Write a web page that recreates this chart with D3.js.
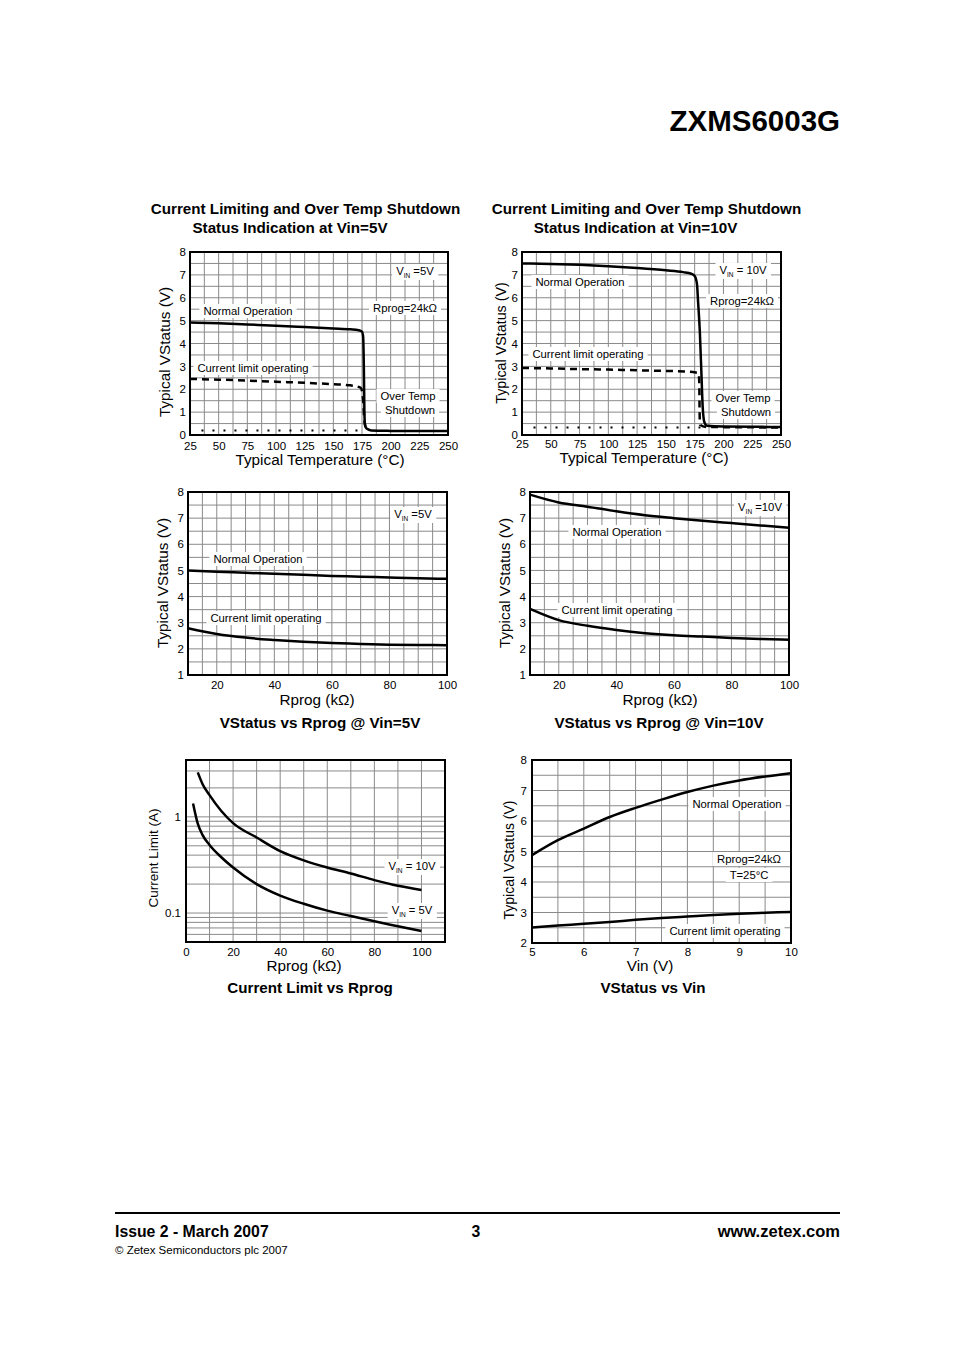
<!DOCTYPE html>
<html><head><meta charset="utf-8">
<script src="https://cdn.jsdelivr.net/npm/d3@7"></script>
<style>
body{margin:0;background:#fff;}
svg{display:block;font-family:"Liberation Sans",Arial,sans-serif;}
</style>
</head><body>
<svg id="page" width="954" height="1350"></svg>
<script>
// ---------- DATA ----------
const tempTicks = [25,50,75,100,125,150,175,200,225,250];
const vTicks8 = [0,1,2,3,4,5,6,7,8];
const vTicks18 = [1,2,3,4,5,6,7,8];
const vTicks28 = [2,3,4,5,6,7,8];
const rprogTicks = [20,40,60,80,100];
const rprogTicks0 = [0,20,40,60,80,100];
const vinTicks = [5,6,7,8,9,10];
const currentTicks = [0.1,1];

// Chart 1: Vin = 5V vs temperature
const t5NormalT = [25,50,75,100,125,150,165,172,175,176,176.6,177.1,177.6,179,183,200,225,250];
const t5NormalV = [4.92,4.88,4.83,4.78,4.72,4.66,4.62,4.58,4.52,4.3,3.0,1.0,0.45,0.28,0.2,0.18,0.17,0.17];
const t5LimitT = [25,50,75,100,125,150,165,174,176,177,178];
const t5LimitV = [2.45,2.42,2.38,2.33,2.28,2.22,2.17,2.06,1.5,0.7,0.35];
const t5ShutT = [35,175];
const t5ShutV = [0.2,0.2];

// Chart 2: Vin = 10V vs temperature
const t10NormalT = [25,50,75,100,125,150,165,172,175,177,178,179.5,181,182,183.5,186,200,225,250];
const t10NormalV = [7.5,7.48,7.44,7.38,7.3,7.2,7.12,7.05,6.95,6.6,5.8,4.5,2.5,1.2,0.55,0.4,0.37,0.36,0.35];
const t10LimitT = [25,50,75,100,125,150,170,176,178.5,179,179.3,179.6,185,250];
const t10LimitV = [2.93,2.91,2.88,2.86,2.83,2.8,2.77,2.73,2.7,2.3,1.0,0.45,0.35,0.33];
const t10ShutT = [35,180];
const t10ShutV = [0.33,0.33];

// Chart 3 & 4: VStatus vs Rprog
const rprog = [10,20,30,40,50,60,70,80,90,100];
const r5Normal = [5.0,4.95,4.91,4.87,4.83,4.79,4.76,4.73,4.70,4.68];
const r5Limit = [2.79,2.57,2.43,2.34,2.27,2.22,2.19,2.16,2.15,2.14];
const r10Normal = [7.9,7.6,7.44,7.26,7.11,7.0,6.9,6.81,6.72,6.63];
const r10Limit = [3.53,3.1,2.88,2.72,2.6,2.52,2.47,2.42,2.38,2.35];

// Chart 5: Current limit vs Rprog
const ilim10R = [5,7,10,15,20,30,40,50,60,70,80,90,100];
const ilim10A = [2.9,2.2,1.68,1.15,0.86,0.61,0.44,0.353,0.297,0.258,0.22,0.192,0.174];
const ilim5R = [3,5,7,10,15,20,30,40,50,60,70,80,90,100];
const ilim5A = [1.38,0.85,0.65,0.51,0.38,0.297,0.2,0.152,0.125,0.106,0.093,0.082,0.073,0.065];

// Chart 6: VStatus vs Vin
const vin = [5,5.5,6,6.5,7,7.5,8,8.5,9,9.5,10];
const vinNormal = [4.88,5.37,5.75,6.13,6.43,6.7,6.95,7.16,7.33,7.46,7.57];
const vinLimit = [2.51,2.57,2.63,2.69,2.76,2.82,2.87,2.92,2.96,2.99,3.02];

// ---------- DRAW ----------
const svg = d3.select("#page");
const zip = (xs, ys) => xs.map((v,i)=>[v, ys[i]]);
const LABEL_SIZE = 11.3;

function addLabel(g, cx, cy, parts, size) {
  const t = g.append("text").attr("x", cx).attr("y", cy)
    .attr("text-anchor","middle").attr("font-size", size || LABEL_SIZE).attr("fill","#000");
  parts.forEach(p => {
    const ts = t.append("tspan").text(p.t);
    if (p.sub) ts.attr("font-size", 6.5).attr("dy", 3);
    if (p.after) ts.attr("dy", -3);
  });
  return t;
}

function drawChart(c) {
  const g = svg.append("g");
  const x = d3.scaleLinear().domain(c.xDomain).range([c.left, c.right]);
  const y = (c.log ? d3.scaleLog() : d3.scaleLinear()).domain(c.yDomain).range([c.bottom, c.top]);

  // grid
  g.append("g").selectAll("line").data(c.xGrid).join("line")
    .attr("x1", d=>x(d)).attr("x2", d=>x(d)).attr("y1", c.top).attr("y2", c.bottom)
    .attr("stroke","#8a8a8a").attr("stroke-width",1);
  g.append("g").selectAll("line").data(c.yGrid).join("line")
    .attr("y1", d=>y(d)).attr("y2", d=>y(d)).attr("x1", c.left).attr("x2", c.right)
    .attr("stroke","#8a8a8a").attr("stroke-width",1);

  // labels with white background
  const lg = g.append("g");
  const bgg = lg.append("g");
  c.labels.forEach(l => {
    const t = addLabel(lg, l.x, l.y, l.parts, l.size);
    const b = t.node().getBBox();
    bgg.append("rect").attr("x", b.x-4).attr("y", b.y-1).attr("width", b.width+8).attr("height", b.height+2)
      .attr("fill","#fff");
  });

  // series
  const line = d3.line().x(d=>x(d[0])).y(d=>y(d[1])).curve(d3.curveMonotoneX);
  c.series.forEach(s => {
    g.append("path").datum(s.data).attr("d", line)
      .attr("fill","none").attr("stroke","#000")
      .attr("stroke-width", s.width || 2.5)
      .attr("stroke-dasharray", s.dash || null)
      .attr("stroke-linecap", s.cap || "butt")
      .attr("stroke-linejoin","round");
  });

  // frame
  g.append("rect").attr("x", c.left).attr("y", c.top)
    .attr("width", c.right-c.left).attr("height", c.bottom-c.top)
    .attr("fill","none").attr("stroke","#000").attr("stroke-width",2);

  // axes
  const xa = g.append("g").attr("transform", `translate(0,${c.bottom})`)
    .call(d3.axisBottom(x).tickValues(c.xTicks).tickSize(0).tickFormat(d3.format("")));
  xa.select(".domain").remove();
  xa.selectAll("text").attr("font-family",null).attr("font-size",11.5).attr("fill","#000")
    .attr("dy",null).attr("y", c.xTickY - c.bottom);
  const ya = g.append("g").attr("transform", `translate(${c.yTickX},0)`)
    .call(d3.axisLeft(y).tickValues(c.yTicks).tickSize(0).tickPadding(0).tickFormat(c.yFmt || d3.format("")));
  ya.select(".domain").remove();
  ya.selectAll("text").attr("font-family",null).attr("font-size",11.5).attr("fill","#000");

  // axis titles
  g.append("text").attr("x", c.xTitle[0]).attr("y", c.xTitle[1]).attr("text-anchor","middle")
    .attr("font-size", c.xTitleSize || 15.3).text(c.xLabel);
  g.append("text").attr("transform", `translate(${c.yTitle[0]},${c.yTitle[1]}) rotate(-90)`)
    .attr("text-anchor","middle").attr("dominant-baseline","central")
    .attr("font-size", c.yTitleSize || 15.3).text(c.yLabel);

  // chart titles
  (c.titles || []).forEach(t => {
    g.append("text").attr("x", t[0]).attr("y", t[1]).attr("text-anchor","middle")
      .attr("font-size",15.2).attr("font-weight","bold").text(t[2]);
  });
}

const VIN = (v) => [{t:"V"},{t:"IN",sub:true},{t:v,after:true}];

// Chart 1
drawChart({
  left:190, right:448, top:252, bottom:435,
  xDomain:[25,250], yDomain:[0,8],
  xGrid:d3.range(25,250.1,12.5), yGrid:d3.range(0,8.01,0.5),
  xTicks:tempTicks, yTicks:vTicks8, xTickY:450, yTickX:186,
  xLabel:"Typical Temperature (°C)", xTitle:[320,465],
  yLabel:"Typical VStatus (V)", yTitle:[164,352],
  titles:[[305.5,214,"Current Limiting and Over Temp Shutdown"],[290,233,"Status Indication at Vin=5V"]],
  series:[
    {data:zip(t5NormalT,t5NormalV), width:2.5},
    {data:zip(t5LimitT,t5LimitV), width:2.5, dash:"7,5"},
    {data:zip(t5ShutT,t5ShutV), width:2, dash:"2,9"}
  ],
  labels:[
    {x:415,y:275,parts:VIN(" =5V")},
    {x:405,y:312,parts:[{t:"Rprog=24kΩ"}]},
    {x:248,y:315,parts:[{t:"Normal Operation"}]},
    {x:253,y:372,parts:[{t:"Current limit operating"}]},
    {x:408,y:400,parts:[{t:"Over Temp"}]},
    {x:410,y:414,parts:[{t:"Shutdown"}]}
  ]
});

// Chart 2
drawChart({
  left:522, right:781, top:252, bottom:435,
  xDomain:[25,250], yDomain:[0,8],
  xGrid:d3.range(25,250.1,12.5), yGrid:d3.range(0,8.01,0.5),
  xTicks:tempTicks, yTicks:vTicks8, xTickY:448, yTickX:518,
  xLabel:"Typical Temperature (°C)", xTitle:[644,463],
  yLabel:"Typical VStatus (V)", yTitle:[501,343], yTitleSize:14.3,
  titles:[[646.5,214,"Current Limiting and Over Temp Shutdown"],[635.5,233,"Status Indication at Vin=10V"]],
  series:[
    {data:zip(t10NormalT,t10NormalV), width:2.5},
    {data:zip(t10LimitT,t10LimitV), width:2.5, dash:"7,5"},
    {data:zip(t10ShutT,t10ShutV), width:2, dash:"2,9"}
  ],
  labels:[
    {x:743,y:274,parts:VIN(" = 10V")},
    {x:580,y:286,parts:[{t:"Normal Operation"}]},
    {x:742,y:305,parts:[{t:"Rprog=24kΩ"}]},
    {x:588,y:358,parts:[{t:"Current limit operating"}]},
    {x:743,y:402,parts:[{t:"Over Temp"}]},
    {x:746,y:416,parts:[{t:"Shutdown"}]}
  ]
});

// Chart 3
drawChart({
  left:188, right:447, top:492, bottom:675,
  xDomain:[10,100], yDomain:[1,8],
  xGrid:d3.range(10,100.1,5), yGrid:d3.range(1,8.01,0.5),
  xTicks:rprogTicks, yTicks:vTicks18, xTickY:689, yTickX:184,
  xLabel:"Rprog (kΩ)", xTitle:[317,705],
  yLabel:"Typical VStatus (V)", yTitle:[162,583],
  titles:[[320,728,"VStatus vs Rprog @ Vin=5V"]],
  series:[
    {data:zip(rprog,r5Normal)},
    {data:zip(rprog,r5Limit)}
  ],
  labels:[
    {x:413,y:518,parts:VIN(" =5V")},
    {x:258,y:563,parts:[{t:"Normal Operation"}]},
    {x:266,y:622,parts:[{t:"Current limit operating"}]}
  ]
});

// Chart 4
drawChart({
  left:530, right:789, top:492, bottom:675,
  xDomain:[10,100], yDomain:[1,8],
  xGrid:d3.range(10,100.1,5), yGrid:d3.range(1,8.01,0.5),
  xTicks:rprogTicks, yTicks:vTicks18, xTickY:689, yTickX:526,
  xLabel:"Rprog (kΩ)", xTitle:[660,705],
  yLabel:"Typical VStatus (V)", yTitle:[504,583],
  titles:[[659,728,"VStatus vs Rprog @ Vin=10V"]],
  series:[
    {data:zip(rprog,r10Normal)},
    {data:zip(rprog,r10Limit)}
  ],
  labels:[
    {x:760,y:511,parts:VIN(" =10V")},
    {x:617,y:536,parts:[{t:"Normal Operation"}]},
    {x:617,y:614,parts:[{t:"Current limit operating"}]}
  ]
});

// Chart 5 (log)
const logGrid = [0.05,0.06,0.07,0.08,0.09,0.1,0.2,0.3,0.4,0.5,0.6,0.7,0.8,0.9,1,2,3];
drawChart({
  left:186, right:445, top:760, bottom:942, log:true,
  xDomain:[0,110], yDomain:[0.05,3.9],
  xGrid:d3.range(0,110.1,10), yGrid:logGrid,
  xTicks:rprogTicks0, yTicks:currentTicks, yFmt:d3.format(""), xTickY:956, yTickX:181,
  xLabel:"Rprog (kΩ)", xTitle:[304,971],
  yLabel:"Current Limit (A)", yTitle:[153,858], yTitleSize:13.5,
  titles:[[310,993,"Current Limit vs Rprog"]],
  series:[
    {data:zip(ilim10R,ilim10A)},
    {data:zip(ilim5R,ilim5A)}
  ],
  labels:[
    {x:412,y:870,parts:VIN(" = 10V")},
    {x:412,y:914,parts:VIN(" = 5V")}
  ]
});

// Chart 6
drawChart({
  left:532, right:791, top:760, bottom:943,
  xDomain:[5,10], yDomain:[2,8],
  xGrid:d3.range(5,10.01,0.5), yGrid:d3.range(2,8.01,0.5),
  xTicks:vinTicks, yTicks:vTicks28, xTickY:956, yTickX:527,
  xLabel:"Vin (V)", xTitle:[650,971],
  yLabel:"Typical VStatus (V)", yTitle:[509,860], yTitleSize:14,
  titles:[[653,993,"VStatus vs Vin"]],
  series:[
    {data:zip(vin,vinNormal)},
    {data:zip(vin,vinLimit)}
  ],
  labels:[
    {x:737,y:808,parts:[{t:"Normal Operation"}]},
    {x:749,y:863,parts:[{t:"Rprog=24kΩ"}]},
    {x:749,y:879,parts:[{t:"T=25°C"}]},
    {x:725,y:935,parts:[{t:"Current limit operating"}]}
  ]
});

// ---------- PAGE HEADER / FOOTER ----------
svg.append("text").attr("x",840).attr("y",131).attr("text-anchor","end")
  .attr("font-size",29.5).attr("font-weight","bold").text("ZXMS6003G");
svg.append("line").attr("x1",115).attr("x2",840).attr("y1",1213).attr("y2",1213)
  .attr("stroke","#000").attr("stroke-width",2);
svg.append("text").attr("x",115).attr("y",1237).attr("font-size",15.8).attr("font-weight","bold")
  .text("Issue 2 - March 2007");
svg.append("text").attr("x",476).attr("y",1237).attr("text-anchor","middle").attr("font-size",15.8)
  .attr("font-weight","bold").text("3");
svg.append("text").attr("x",840).attr("y",1237).attr("text-anchor","end").attr("font-size",16.5)
  .attr("font-weight","bold").text("www.zetex.com");
svg.append("text").attr("x",115).attr("y",1254).attr("font-size",11.5)
  .text("© Zetex Semiconductors plc 2007");
</script>
</body></html>
